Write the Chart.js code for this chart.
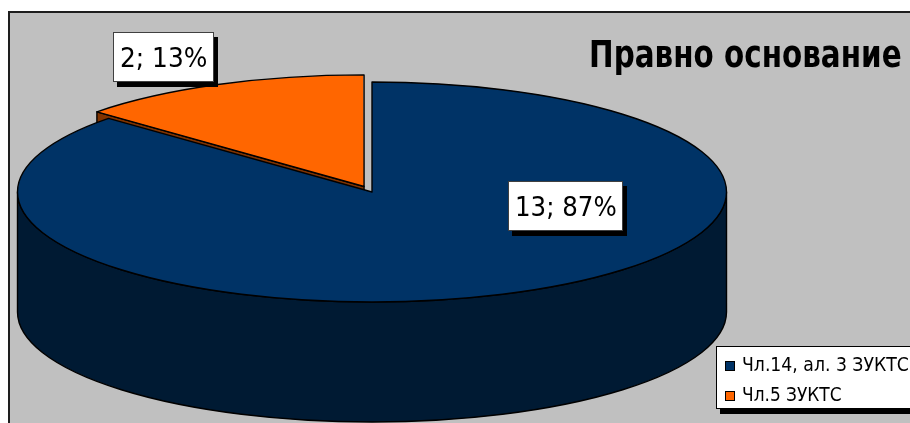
<!DOCTYPE html>
<html>
<head>
<meta charset="utf-8">
<script src="https://cdn.jsdelivr.net/npm/chart.js@4.4.0/dist/chart.umd.min.js"></script>
<style>
  html, body { margin: 0; padding: 0; background: #fff; width: 910px; height: 423px; overflow: hidden; }
  #frame { position: absolute; left: 8px; top: 11px; width: 920px; height: 430px; background: #c0c0c0;
           border-left: 2px solid #1e1e1e; border-top: 2px solid #1e1e1e; }
  #chart { position: absolute; left: 0; top: 0; }
  .txt { position: absolute; white-space: nowrap; line-height: 1; color: #000;
         font-family: "DejaVu Sans Condensed", "DejaVu Sans", sans-serif; transform-origin: 0 0; }
  #title { font-weight: bold; font-size: 37px; left: 589px; top: 36px; }
  .lbl { position: absolute; background: #fff; border: 1px solid #404040; box-shadow: 4px 5px 0 #000;
         box-sizing: border-box; font-family: "DejaVu Sans Condensed", "DejaVu Sans", sans-serif;
         font-size: 27px; line-height: 1; }
  .lbl span { position: absolute; white-space: nowrap; top: 11px; transform-origin: 0 0; }
  #legend { position: absolute; left: 716px; top: 346px; width: 220px; height: 63px; background: #fff;
            border: 1px solid #000; box-shadow: 4px 5px 0 #000; box-sizing: border-box; }
  .sw { position: absolute; width: 10px; height: 10px; border: 1px solid #000; box-sizing: border-box; }
  .item { font-size: 20px; }
</style>
</head>
<body>
<div id="frame"></div>
<canvas id="chart" width="910" height="423"></canvas>
<div id="title" class="txt">Правно основание</div>
<div id="labels"></div>
<div id="legend"></div>
<script>
const categories = ["Чл.14, ал. 3 ЗУКТС", "Чл.5 ЗУКТС"];
const counts = [13, 2];
const topColors = ["#003366", "#ff6600"];
const sideColors = ["#001a33", "#803300"];
const explode = [0, 22];

// ellipse projection of the library's circle
const R0 = 100, SX = 3.545, SY = 1.10, DEPTH = 120;

function geom(arc) {
  const p = arc.getProps(["x", "y", "startAngle", "endAngle", "outerRadius", "circumference"], true);
  const off = (arc.options.offset || 0) / 4;
  const half = (p.startAngle + p.endAngle) / 2;
  const fix = 1 - Math.sin(Math.min(Math.PI, p.circumference || 0));
  const r = p.outerRadius + off * fix;
  return {
    X: p.x + Math.cos(half) * off * SX,
    Y: p.y + Math.sin(half) * off * SY,
    rx: r * SX, ry: r * SY,
    s: p.startAngle, e: p.endAngle
  };
}

function face(ctx, g, a) {
  const px = g.X + g.rx * Math.cos(a), py = g.Y + g.ry * Math.sin(a);
  ctx.beginPath();
  ctx.moveTo(g.X, g.Y); ctx.lineTo(px, py); ctx.lineTo(px, py + DEPTH); ctx.lineTo(g.X, g.Y + DEPTH);
  ctx.closePath(); ctx.fill(); ctx.stroke();
}

function wall(ctx, g, a0, a1) {
  ctx.beginPath();
  ctx.ellipse(g.X, g.Y, g.rx, g.ry, 0, a0, a1);
  ctx.ellipse(g.X, g.Y + DEPTH, g.rx, g.ry, 0, a1, a0, true);
  ctx.closePath(); ctx.fill(); ctx.stroke();
}

const pie3d = {
  id: "pie3d",
  beforeDatasetsDraw(chart) {
    const ctx = chart.ctx;
    const arcs = chart.getDatasetMeta(0).data;
    ctx.save();
    ctx.lineWidth = 1.4; ctx.strokeStyle = "#000"; ctx.lineJoin = "round";
    for (let i = arcs.length - 1; i >= 0; i--) {
      const g = geom(arcs[i]);
      ctx.fillStyle = sideColors[i];
      if (Math.cos(g.s) < -1e-6) face(ctx, g, g.s);
      if (Math.cos(g.e) > 1e-6) face(ctx, g, g.e);
      for (let k = -1; k <= 1; k++) {
        const a0 = Math.max(g.s, 2 * Math.PI * k), a1 = Math.min(g.e, 2 * Math.PI * k + Math.PI);
        if (a1 > a0) wall(ctx, g, a0, a1);
      }
    }
    ctx.restore();
    ctx.save();
    const { x, y } = arcs[0];
    ctx.translate(x, y); ctx.scale(SX, SY); ctx.translate(-x, -y);
  },
  afterDatasetsDraw(chart) {
    const ctx = chart.ctx;
    ctx.restore();
    ctx.save();
    ctx.lineWidth = 1.4; ctx.strokeStyle = "#000"; ctx.lineJoin = "round";
    chart.getDatasetMeta(0).data.forEach((arc) => {
      const g = geom(arc);
      ctx.beginPath();
      ctx.moveTo(g.X, g.Y);
      ctx.ellipse(g.X, g.Y, g.rx, g.ry, 0, g.s, g.e);
      ctx.closePath();
      ctx.stroke();
    });
    ctx.restore();
  }
};

new Chart(document.querySelector("#chart"), {
  type: "pie",
  data: {
    labels: categories,
    datasets: [{
      data: counts,
      backgroundColor: topColors,
      borderWidth: 0,
      offset: explode,
      radius: R0,
      clip: false
    }]
  },
  options: {
    responsive: false,
    animation: false,
    events: [],
    layout: { padding: { left: 0, right: 166, top: 0, bottom: 39 } },
    plugins: { legend: { display: false }, tooltip: { enabled: false } }
  },
  plugins: [pie3d]
});

// squeeze a text element horizontally to a measured width
function fit(el, width) {
  el.style.transform = `scaleX(${width / el.scrollWidth})`;
}

// data labels "value; percent"
const total = counts.reduce((a, b) => a + b, 0);
const labelBoxes = [
  { left: 508, top: 181, width: 115, height: 50, text: 102 },
  { left: 113, top: 32, width: 101, height: 50, text: 87 }
];
document.querySelector("#labels").innerHTML = counts.map((v, i) => {
  const b = labelBoxes[i];
  return `<div class="lbl" style="left:${b.left}px;top:${b.top}px;width:${b.width}px;height:${b.height}px"><span>${v}; ${Math.round(v / total * 100)}%</span></div>`;
}).join("");
document.querySelectorAll(".lbl span").forEach((el, i) => {
  const b = labelBoxes[i];
  el.style.left = `${(b.width - 2 - b.text) / 2}px`;
  fit(el, b.text);
});

// legend
const legendWidths = [167, 100];
document.querySelector("#legend").innerHTML = categories.map((c, i) => `
  <div class="sw" style="left:8px;top:${14 + i * 30}px;background:${topColors[i]}"></div>
  <div class="txt item" style="left:25px;top:${7 + i * 30}px">${c}</div>
`).join("");
document.querySelectorAll(".item").forEach((el, i) => fit(el, legendWidths[i]));

fit(document.querySelector("#title"), 313);
</script>
</body>
</html>
